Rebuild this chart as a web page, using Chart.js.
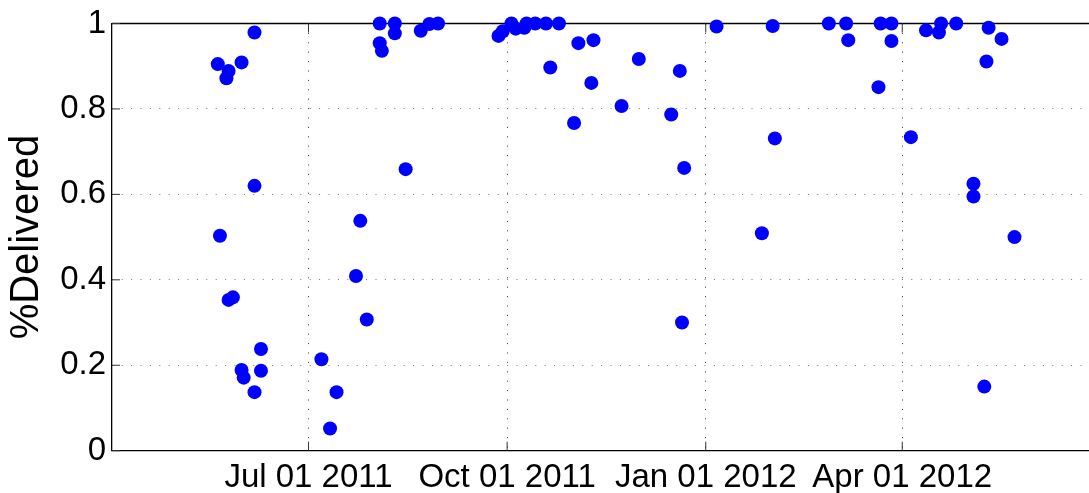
<!DOCTYPE html>
<html>
<head>
<meta charset="utf-8">
<script src="https://cdn.jsdelivr.net/npm/chart.js@4.4.1/dist/chart.umd.min.js"></script>
<style>
    html, body { margin: 0; padding: 0; background: #fff; overflow: hidden; }
</style>
</head>
<body>
<canvas id="delivered" width="1089" height="493"></canvas>
<script>
// data ////////////////////////////////////////////////////////////////
const dates = [
    "2011-05-20", "2011-05-21", "2011-05-24", "2011-05-25", "2011-05-25", "2011-05-27",
    "2011-05-31", "2011-05-31", "2011-06-01", "2011-06-06", "2011-06-06", "2011-06-06",
    "2011-06-09", "2011-06-09", "2011-07-07", "2011-07-11", "2011-07-14", "2011-07-23",
    "2011-07-25", "2011-07-28", "2011-08-03", "2011-08-03", "2011-08-04", "2011-08-10",
    "2011-08-10", "2011-08-15", "2011-08-22", "2011-08-26", "2011-08-30", "2011-09-27",
    "2011-09-29", "2011-10-03", "2011-10-05", "2011-10-09", "2011-10-10", "2011-10-14",
    "2011-10-19", "2011-10-21", "2011-10-25", "2011-11-01", "2011-11-03", "2011-11-09",
    "2011-11-10", "2011-11-23", "2011-12-01", "2011-12-16", "2011-12-20", "2011-12-21",
    "2011-12-22", "2012-01-06", "2012-01-27", "2012-02-01", "2012-02-02", "2012-02-27",
    "2012-03-06", "2012-03-07", "2012-03-21", "2012-03-22", "2012-03-27", "2012-03-27",
    "2012-04-05", "2012-04-12", "2012-04-18", "2012-04-19", "2012-04-26", "2012-05-04",
    "2012-05-04", "2012-05-09", "2012-05-10", "2012-05-11", "2012-05-17", "2012-05-23"
];
const delivered = [
    0.905, 0.503, 0.872, 0.889, 0.353, 0.359,
    0.909, 0.189, 0.171, 0.979, 0.620, 0.137,
    0.238, 0.187, 0.214, 0.052, 0.137, 0.409,
    0.538, 0.307, 1.000, 0.954, 0.936, 1.000,
    0.977, 0.659, 0.983, 0.999, 1.000, 0.971,
    0.982, 1.000, 0.988, 0.990, 1.000, 1.000,
    1.000, 0.897, 1.000, 0.767, 0.954, 0.861,
    0.961, 0.807, 0.917, 0.787, 0.889, 0.300,
    0.662, 0.993, 0.509, 0.994, 0.731, 1.000,
    1.000, 0.961, 0.851, 1.000, 1.000, 0.959,
    0.734, 0.984, 0.979, 1.000, 1.000, 0.595,
    0.625, 0.150, 0.911, 0.990, 0.964, 0.500
];
const tickDates = ["2011-07-01", "2011-10-01", "2012-01-01", "2012-04-01"];
const tickLabels = ["Jul 01 2011", "Oct 01 2011", "Jan 01 2012", "Apr 01 2012"];
const yTicks = [0, 0.2, 0.4, 0.6, 0.8, 1];

const FONT = "'Liberation Sans', Arial, Helvetica, sans-serif";

// top border + inward tick marks (matlab style)
const frame = {
    id: 'frame',
    beforeDatasetsDraw(chart) {
        const { ctx, chartArea: a, scales: { x, y } } = chart;
        ctx.save();
        ctx.strokeStyle = '#000';
        ctx.lineWidth = 1.3;
        ctx.beginPath();
        ctx.moveTo(a.left, a.top);
        ctx.lineTo(a.right, a.top);
        ctx.stroke();

        ctx.strokeStyle = '#333';
        ctx.lineWidth = 1;
        ctx.beginPath();
        yTicks.forEach(v => {
            const py = y.getPixelForValue(v);
            ctx.moveTo(a.left, py);
            ctx.lineTo(a.left + 8, py);
        });
        tickDates.forEach(d => {
            const px = x.getPixelForValue(Date.parse(d));
            ctx.moveTo(px, a.bottom);
            ctx.lineTo(px, a.bottom - 9);
            ctx.moveTo(px, a.top);
            ctx.lineTo(px, a.top + 9);
        });
        ctx.stroke();
        ctx.restore();
    }
};

new Chart(document.getElementById('delivered'), {
    type: 'scatter',
    data: {
        datasets: [{
            data: dates.map((d, i) => ({ x: Date.parse(d), y: delivered[i] })),
            pointRadius: 7,
            pointHoverRadius: 7,
            pointBackgroundColor: '#0000ff',
            pointBorderWidth: 0,
            clip: false
        }]
    },
    options: {
        responsive: false,
        animation: false,
        layout: {
            autoPadding: false,   // no extra room for point radius
            padding: { top: 23.5, right: 0, bottom: 0, left: 0 }
        },
        plugins: {
            legend: { display: false },
            tooltip: { enabled: false }
        },
        scales: {
            x: {
                type: 'linear',
                min: Date.UTC(2011, 3, 1),
                max: Date.UTC(2012, 5, 26, 12),
                afterBuildTicks: s => { s.ticks = tickDates.map(d => ({ value: Date.parse(d) })); },
                afterFit: s => { s.height = 42.3; s.paddingLeft = 0; s.paddingRight = 0; },
                ticks: {
                    autoSkip: false,
                    maxRotation: 0,
                    padding: 7,
                    color: '#000',
                    font: { family: FONT, size: 33 },
                    callback: (v, i) => tickLabels[i]
                },
                grid: { color: '#333', drawTicks: false, lineWidth: 1 },
                border: { color: '#000', width: 1.3, dash: [1, 8.4] }
            },
            y: {
                min: 0,
                max: 1,
                afterBuildTicks: s => { s.ticks = yTicks.map(v => ({ value: v })); },
                afterFit: s => { s.width = 112; s.paddingTop = 0; s.paddingBottom = 0; },
                ticks: {
                    padding: 6,
                    color: '#000',
                    font: { family: FONT, size: 33 },
                    callback: v => String(v)
                },
                grid: { color: '#777', drawTicks: false, lineWidth: 1 },
                border: { color: '#000', width: 1.3, dash: [1, 8.4] },
                title: {
                    display: true,
                    text: '%Delivered',
                    color: '#000',
                    font: { family: FONT, size: 40 },
                    padding: { top: 3, bottom: 0 }
                }
            }
        }
    },
    plugins: [frame]
});
</script>
</body>
</html>
